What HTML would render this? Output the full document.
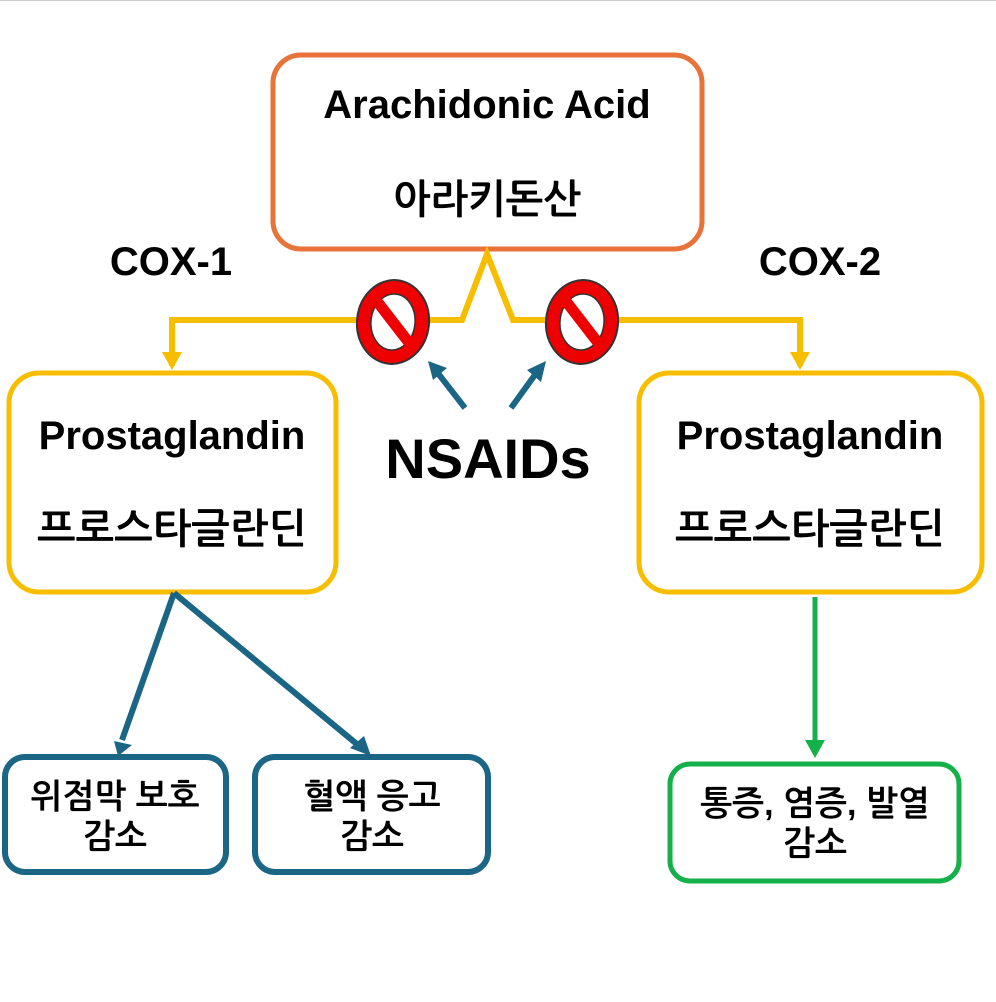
<!DOCTYPE html>
<html><head><meta charset="utf-8"><style>
html,body{margin:0;padding:0;background:#fff;}
svg{display:block;}
text{font-family:"Liberation Sans","NanumGothic","Noto Sans CJK KR",sans-serif;font-weight:bold;fill:#000;text-anchor:middle;}
</style></head><body>
<svg width="996" height="1002" viewBox="0 0 996 1002">
<line x1="0" y1="0.5" x2="996" y2="0.5" stroke="#ccc" stroke-width="1"/>
<rect x="273" y="55" width="429" height="194" rx="28" fill="#fff" stroke="#E8733A" stroke-width="5"/>
<text x="487" y="118" font-size="40">Arachidonic Acid</text>
<text x="487" y="213" font-size="40">아라키돈산</text>
<text x="171" y="275" font-size="40">COX-1</text>
<text x="820" y="275" font-size="40">COX-2</text>
<polyline points="172,366 172,320 462,320 487,254 513,320 800,320 800,366" fill="none" stroke="#F7BE00" stroke-width="6" stroke-linejoin="miter"/>
<polygon points="162,352 182,352 172,370" fill="#F7BE00"/>
<polygon points="790,352 810,352 800,370" fill="#F7BE00"/>
<g transform="translate(393,322) rotate(6)">
<ellipse rx="36" ry="42" fill="#EE0000" stroke="#333" stroke-width="2"/>
<ellipse rx="22" ry="28" fill="#fff" stroke="#333" stroke-width="1.5"/>
<line x1="-21" y1="-22" x2="21" y2="22" stroke="#EE0000" stroke-width="11"/>
</g>
<g transform="translate(582,322) rotate(6)">
<ellipse rx="36" ry="42" fill="#EE0000" stroke="#333" stroke-width="2"/>
<ellipse rx="22" ry="28" fill="#fff" stroke="#333" stroke-width="1.5"/>
<line x1="-21" y1="-22" x2="21" y2="22" stroke="#EE0000" stroke-width="11"/>
</g>
<line x1="465" y1="408" x2="437" y2="372" stroke="#1B6585" stroke-width="6"/>
<polygon points="428,361 447,368 433,380" fill="#1B6585"/>
<line x1="511" y1="408" x2="537" y2="372" stroke="#1B6585" stroke-width="6"/>
<polygon points="546,361 541,382 527,370" fill="#1B6585"/>
<text x="488" y="478" font-size="56">NSAIDs</text>
<rect x="9" y="373" width="327" height="219" rx="30" fill="#fff" stroke="#F7BE00" stroke-width="5"/>
<text x="172" y="449" font-size="40">Prostaglandin</text>
<text x="172" y="543" font-size="41">프로스타글란딘</text>
<rect x="639" y="373" width="343" height="219" rx="30" fill="#fff" stroke="#F7BE00" stroke-width="5"/>
<text x="810" y="449" font-size="40">Prostaglandin</text>
<text x="810" y="543" font-size="41">프로스타글란딘</text>
<line x1="174" y1="593" x2="122" y2="740" stroke="#1B6585" stroke-width="6"/>
<polygon points="114,741 132,745 118,756" fill="#1B6585"/>
<line x1="174" y1="593" x2="358" y2="745" stroke="#1B6585" stroke-width="6"/>
<polygon points="350,748 364,736 371,756" fill="#1B6585"/>
<line x1="815" y1="597" x2="815" y2="742" stroke="#14B04A" stroke-width="5"/>
<polygon points="805,740 825,740 815,758" fill="#14B04A"/>
<rect x="5" y="757" width="221" height="115" rx="20" fill="#fff" stroke="#1B6585" stroke-width="6"/>
<text x="115" y="808" font-size="34">위점막 보호</text>
<text x="115" y="848" font-size="34">감소</text>
<rect x="255" y="757" width="233" height="115" rx="20" fill="#fff" stroke="#1B6585" stroke-width="6"/>
<text x="372" y="808" font-size="34">혈액 응고</text>
<text x="372" y="848" font-size="34">감소</text>
<rect x="670" y="764" width="289" height="117" rx="20" fill="#fff" stroke="#14B04A" stroke-width="5"/>
<text x="815" y="815" font-size="34">통증, 염증, 발열</text>
<text x="815" y="855" font-size="34">감소</text>
</svg>
</body></html>
